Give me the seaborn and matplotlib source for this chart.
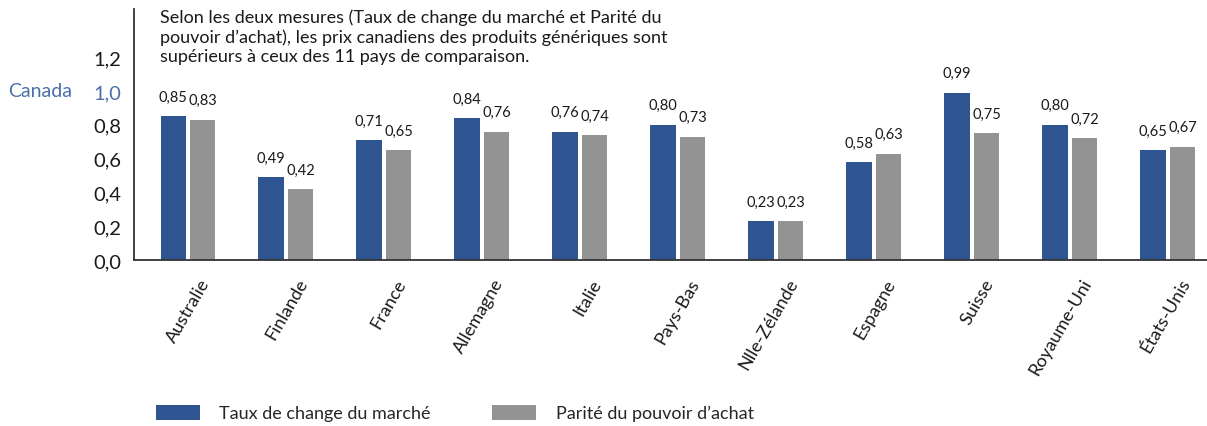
import numpy as np
import pandas as pd
import seaborn as sns
import matplotlib
matplotlib.use("Agg")
import matplotlib.pyplot as plt
from matplotlib.transforms import ScaledTranslation, blended_transform_factory

# ---------------- data ----------------
countries = ["Australie", "Finlande", "France", "Allemagne", "Italie", "Pays-Bas",
             "Nlle-Zélande", "Espagne", "Suisse", "Royaume-Uni", "États-Unis"]
taux_marche = [0.85, 0.49, 0.71, 0.84, 0.76, 0.80, 0.23, 0.58, 0.99, 0.80, 0.65]
parite_ppa = [0.83, 0.42, 0.65, 0.76, 0.74, 0.73, 0.23, 0.63, 0.75, 0.72, 0.67]
series_names = ["Taux de change du marché", "Parité du pouvoir d’achat"]
y_ticks = [0.0, 0.2, 0.4, 0.6, 0.8, 1.0, 1.2]
reference_label = "Canada"
note = ("Selon les deux mesures (Taux de change du marché et Parité du\n"
        "pouvoir d’achat), les prix canadiens des produits génériques sont\n"
        "supérieurs à ceux des 11 pays de comparaison.")

df = pd.DataFrame({
    "pays": countries * 2,
    "mesure": [series_names[0]] * len(countries) + [series_names[1]] * len(countries),
    "valeur": taux_marche + parite_ppa,
})

BLUE = "#2E5591"
GREY = "#939393"
LABEL_BLUE = "#4A6FA8"
TXT = "#1a1a1a"

sns.set_style("white")
plt.rcParams["font.family"] = ["Lato", "DejaVu Sans"]

W, H = 1207, 427
fig = plt.figure(figsize=(W / 100, H / 100), dpi=100)
ax = fig.add_axes([134 / W, (H - 261) / H, 1 - 134 / W, (261 - 10) / H])

sns.barplot(data=df, x="pays", y="valeur", hue="mesure", hue_order=series_names,
            palette=[BLUE, GREY], width=0.6, gap=0.13, saturation=1,
            linewidth=0, ax=ax, legend=True, errorbar=None)

handles, labels = ax.get_legend_handles_labels()
ax.get_legend().remove()

for k, cont in enumerate(ax.containers):
    vals = [b.get_height() for b in cont]
    texts = ax.bar_label(cont, labels=[f"{v:.2f}".replace(".", ",") for v in vals],
                         padding=9, fontsize=10.5, color=TXT)
    dx = -4 if k == 0 else 4
    for t in texts:
        t.set_transform(t.get_transform() + ScaledTranslation(dx / 100, 0, fig.dpi_scale_trans))

ax.set_xlim(-0.551, 10.40)
ax.set_ylim(0, 1.485)
ax.set_xlabel("")
ax.set_ylabel("")

ax.set_yticks(y_ticks)
ax.set_yticklabels([f"{t:.1f}".replace(".", ",") for t in y_ticks], fontsize=14.5, color=TXT)
for t, lab in zip(y_ticks, ax.get_yticklabels()):
    if abs(t - 1.0) < 1e-9:
        lab.set_color(LABEL_BLUE)
ax.tick_params(axis="y", length=0, pad=9)
ax.tick_params(axis="x", length=0, pad=14)

offset = ScaledTranslation(18 / 100, 0, fig.dpi_scale_trans)
for lab in ax.get_xticklabels():
    lab.set_rotation(60)
    lab.set_ha("right")
    lab.set_va("center")
    lab.set_rotation_mode("anchor")
    lab.set_fontsize(13)
    lab.set_color(TXT)
    lab.set_transform(lab.get_transform() + offset)

for s in ["top", "right"]:
    ax.spines[s].set_visible(False)
for s in ["left", "bottom"]:
    ax.spines[s].set_color("#333333")
    ax.spines[s].set_linewidth(1.3)

trans = blended_transform_factory(fig.transFigure, ax.transData)
ax.text(8 / W, 1.0, reference_label, transform=trans, ha="left", va="center",
        fontsize=14, color=LABEL_BLUE)

fig.text(160 / W, 1 - 9 / H, note, ha="left", va="top", fontsize=13,
         color=TXT, linespacing=1.25)

fig.legend(handles, labels, loc="lower left", bbox_to_anchor=(140 / W, -0.027),
           ncol=2, frameon=False, handlelength=2.4, handleheight=0.9,
           columnspacing=3.4, handletextpad=1.1, fontsize=13)

fig.savefig("out.png", dpi=100)
